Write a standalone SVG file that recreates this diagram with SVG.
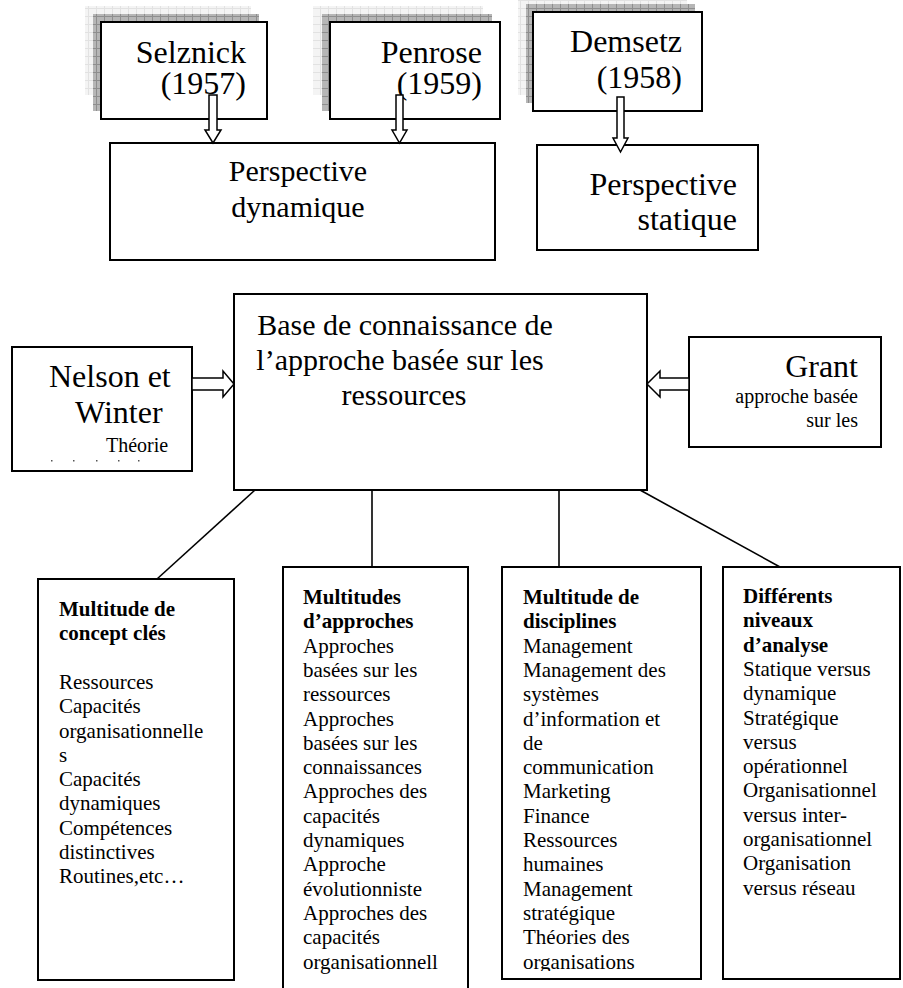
<svg xmlns="http://www.w3.org/2000/svg" width="903" height="988" viewBox="0 0 903 988">
<defs>
<pattern id="gDark" width="8" height="8" patternUnits="userSpaceOnUse"><rect width="8" height="8" fill="#b6b6b6"/><path d="M0 0.5H8M0.5 0V8" stroke="#8e8e8e" stroke-width="1" fill="none"/></pattern>
<pattern id="gLight" width="8" height="8" patternUnits="userSpaceOnUse"><rect width="8" height="8" fill="#f4f4f4"/><path d="M0 0.5H8M0.5 0V8" stroke="#e2e2e2" stroke-width="1" fill="none"/></pattern>
<clipPath id="clip3"><rect x="500" y="560" width="205" height="411"/></clipPath>
</defs>
<style>
.box{fill:#fff;stroke:#000;stroke-width:2}
.sh1{fill:url(#gLight)}
.sh2{fill:url(#gDark)}
.arr{fill:#fff;stroke:#000;stroke-width:1.5;stroke-linejoin:miter}
.ln{stroke:#000;stroke-width:1.6;fill:none}
text{font-family:"Liberation Serif","Times New Roman",serif;fill:#000}
.big{font-size:32px}
.mid{font-size:30px}
.sm{font-size:20px}
.bt{font-size:21px}
.b{font-weight:bold}
</style>

<g id="selznick">
<rect class="sh1" x="85" y="6" width="166" height="89"/>
<rect class="sh2" x="93" y="14" width="166" height="97"/>
<rect class="box" x="101" y="22" width="166" height="97"/>
<text class="big" x="246" y="63" text-anchor="end">Selznick</text>
<text class="big" x="246" y="94" text-anchor="end">(1957)</text>
</g>

<g id="penrose">
<rect class="sh1" x="313" y="6" width="170" height="89"/>
<rect class="sh2" x="322" y="14" width="170" height="97"/>
<rect class="box" x="330" y="22" width="170" height="97"/>
<text class="big" x="482" y="63" text-anchor="end">Penrose</text>
<text class="big" x="482" y="94" text-anchor="end">(1959)</text>
</g>

<g id="demsetz">
<rect class="sh1" x="518" y="-4" width="169" height="99"/>
<rect class="sh2" x="526" y="4" width="169" height="99"/>
<rect class="box" x="533" y="12" width="169" height="99"/>
<text class="big" x="682" y="52" text-anchor="end">Demsetz</text>
<text class="big" x="682" y="88" text-anchor="end">(1958)</text>
</g>

<g id="perspective-dynamique">
<rect class="box" x="110" y="143" width="385" height="117"/>
<text class="mid" x="298" y="181" text-anchor="middle">Perspective</text>
<text class="mid" x="298" y="217" text-anchor="middle">dynamique</text>
</g>

<g id="perspective-statique">
<rect class="box" x="537" y="145" width="221" height="105"/>
<text class="big" x="737" y="195" text-anchor="end">Perspective</text>
<text class="big" x="737" y="230" text-anchor="end">statique</text>
</g>

<g id="base">
<rect class="box" x="234" y="294" width="413" height="196"/>
<text class="mid" x="405" y="335" text-anchor="middle">Base de connaissance de</text>
<text class="mid" x="400" y="370" text-anchor="middle">l’approche basée sur les</text>
<text class="mid" x="404" y="405" text-anchor="middle">ressources</text>
</g>

<g id="nelson-winter">
<rect class="box" x="12" y="347" width="180" height="124"/>
<text class="big" x="49" y="387">Nelson et</text>
<text class="big" x="75" y="423">Winter</text>
<text class="sm" x="106" y="452">Théorie</text>
<g fill="#555">
<rect x="51" y="460" width="1.5" height="1.5"/>
<rect x="73" y="460" width="1.5" height="1.5"/>
<rect x="96" y="460" width="1.5" height="1.5"/>
<rect x="118" y="460" width="1.5" height="1.5"/>
<rect x="138" y="460" width="1.5" height="1.5"/>
</g>
</g>

<g id="grant">
<rect class="box" x="689" y="337" width="192" height="110"/>
<text class="big" x="858" y="377" text-anchor="end">Grant</text>
<text class="sm" x="858" y="403" text-anchor="end">approche basée</text>
<text class="sm" x="858" y="427" text-anchor="end">sur les</text>
</g>

<g id="concepts">
<rect class="box" x="38" y="579" width="196" height="401"/>
<text class="bt">
<tspan class="b" x="59" y="616">Multitude de</tspan>
<tspan class="b" x="59" dy="24.3">concept clés</tspan>
<tspan x="59" dy="48.6">Ressources</tspan>
<tspan x="59" dy="24.3">Capacités</tspan>
<tspan x="59" dy="24.3">organisationnelle</tspan>
<tspan x="59" dy="24.3">s</tspan>
<tspan x="59" dy="24.3">Capacités</tspan>
<tspan x="59" dy="24.3">dynamiques</tspan>
<tspan x="59" dy="24.3">Compétences</tspan>
<tspan x="59" dy="24.3">distinctives</tspan>
<tspan x="59" dy="24.3">Routines,etc…</tspan>
</text>
</g>

<g id="approches">
<rect class="box" x="283" y="567" width="185" height="430"/>
<text class="bt">
<tspan class="b" x="303" y="604">Multitudes</tspan>
<tspan class="b" x="303" dy="24.3">d’approches</tspan>
<tspan x="303" dy="24.3">Approches</tspan>
<tspan x="303" dy="24.3">basées sur les</tspan>
<tspan x="303" dy="24.3">ressources</tspan>
<tspan x="303" dy="24.3">Approches</tspan>
<tspan x="303" dy="24.3">basées sur les</tspan>
<tspan x="303" dy="24.3">connaissances</tspan>
<tspan x="303" dy="24.3">Approches des</tspan>
<tspan x="303" dy="24.3">capacités</tspan>
<tspan x="303" dy="24.3">dynamiques</tspan>
<tspan x="303" dy="24.3">Approche</tspan>
<tspan x="303" dy="24.3">évolutionniste</tspan>
<tspan x="303" dy="24.3">Approches des</tspan>
<tspan x="303" dy="24.3">capacités</tspan>
<tspan x="303" dy="24.3">organisationnell</tspan>
</text>
</g>

<g id="disciplines">
<rect class="box" x="502" y="567" width="199" height="412"/>
<text class="bt" clip-path="url(#clip3)">
<tspan class="b" x="523" y="604">Multitude de</tspan>
<tspan class="b" x="523" dy="24.3">disciplines</tspan>
<tspan x="523" dy="24.3">Management</tspan>
<tspan x="523" dy="24.3">Management des</tspan>
<tspan x="523" dy="24.3">systèmes</tspan>
<tspan x="523" dy="24.3">d’information et</tspan>
<tspan x="523" dy="24.3">de</tspan>
<tspan x="523" dy="24.3">communication</tspan>
<tspan x="523" dy="24.3">Marketing</tspan>
<tspan x="523" dy="24.3">Finance</tspan>
<tspan x="523" dy="24.3">Ressources</tspan>
<tspan x="523" dy="24.3">humaines</tspan>
<tspan x="523" dy="24.3">Management</tspan>
<tspan x="523" dy="24.3">stratégique</tspan>
<tspan x="523" dy="24.3">Théories des</tspan>
<tspan x="523" dy="24.3">organisations</tspan>
</text>
</g>

<g id="niveaux">
<rect class="box" x="723" y="567" width="177" height="412"/>
<text class="bt">
<tspan class="b" x="743" y="603">Différents</tspan>
<tspan class="b" x="743" dy="24.3">niveaux</tspan>
<tspan class="b" x="743" dy="24.3">d’analyse</tspan>
<tspan x="743" dy="24.3">Statique versus</tspan>
<tspan x="743" dy="24.3">dynamique</tspan>
<tspan x="743" dy="24.3">Stratégique</tspan>
<tspan x="743" dy="24.3">versus</tspan>
<tspan x="743" dy="24.3">opérationnel</tspan>
<tspan x="743" dy="24.3">Organisationnel</tspan>
<tspan x="743" dy="24.3">versus inter-</tspan>
<tspan x="743" dy="24.3">organisationnel</tspan>
<tspan x="743" dy="24.3">Organisation</tspan>
<tspan x="743" dy="24.3">versus réseau</tspan>
</text>
</g>

<g id="connectors">
<path class="arr" d="M209 95H217V130H221L213 143L205 130H209Z"/>
<path class="arr" d="M396 95H403V130H407L399.5 143L392 130H396Z"/>
<path class="arr" d="M617 97H624V138H628L620.5 152L613 138H617Z"/>
<path class="arr" d="M192 378H223V371L234 384L223 397V390H192Z"/>
<path class="arr" d="M689 378H660V371L647 384L660 397V390H689Z"/>
<line class="ln" x1="255" y1="490" x2="157" y2="579"/>
<line class="ln" x1="372" y1="490" x2="372" y2="567"/>
<line class="ln" x1="559" y1="490" x2="559" y2="567"/>
<line class="ln" x1="640" y1="490" x2="780" y2="567"/>
</g>
</svg>
